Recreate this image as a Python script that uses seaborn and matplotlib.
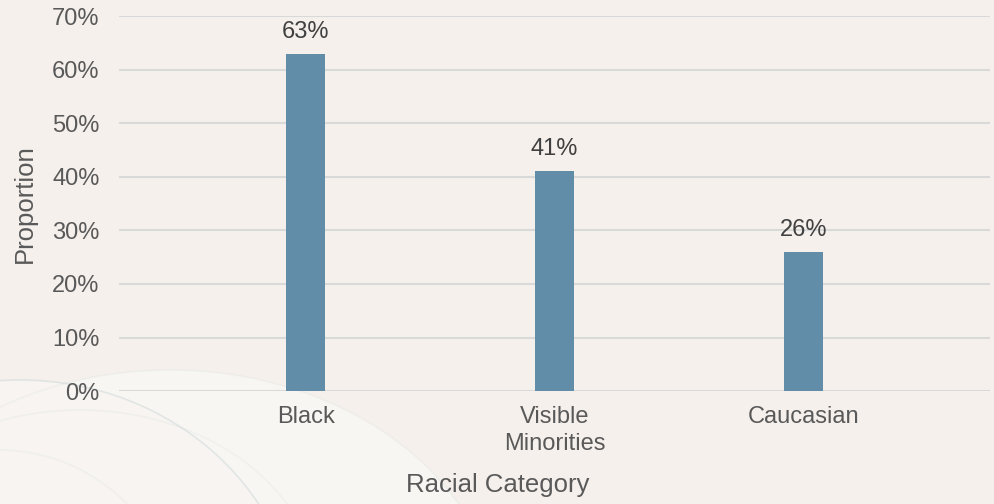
import matplotlib
matplotlib.use("Agg")
import matplotlib.pyplot as plt
from matplotlib.patches import Ellipse, Arc
import seaborn as sns
import pandas as pd

categories = ["Black", "Visible\nMinorities", "Caucasian"]
proportions = [0.63, 0.41, 0.26]
bar_labels = ["63%", "41%", "26%"]
ytick_vals = [0, 0.1, 0.2, 0.3, 0.4, 0.5, 0.6, 0.7]
ytick_labels = ["0%", "10%", "20%", "30%", "40%", "50%", "60%", "70%"]

bg = "#f5f0ec"
bar_color = "#618da8"

sns.set_style("white")
plt.rcParams["font.family"] = ["Liberation Sans", "DejaVu Sans"]

fig = plt.figure(figsize=(9.94, 5.04), dpi=100, facecolor=bg)

# faint decorative swirl in the lower-left corner
deco = fig.add_axes([0, 0, 1, 1], zorder=0)
deco.set_xlim(0, 994)
deco.set_ylim(504, 0)
deco.axis("off")
deco.add_patch(Ellipse((170, 630), 660, 520, facecolor="#f8f6f3", edgecolor="none"))
deco.add_patch(Ellipse((20, 640), 560, 520, facecolor="#f7f4f1", edgecolor="none"))
for cx, cy, w, h, a in [(20, 640, 560, 520, 0.35), (170, 630, 660, 520, 0.12),
                        (80, 600, 480, 380, 0.12), (0, 660, 380, 420, 0.12)]:
    deco.add_patch(Arc((cx, cy), w, h, theta1=180, theta2=360,
                       edgecolor="#b8cccc", lw=1.2, alpha=a))

ax = fig.add_axes([0.1197, 0.224, 0.8763, 0.744], zorder=1)
ax.patch.set_alpha(0)

df = pd.DataFrame({"category": categories, "proportion": proportions})
sns.barplot(data=df, x="category", y="proportion", color=bar_color,
            saturation=1, width=0.157, edgecolor="none", linewidth=0,
            ax=ax, zorder=3)

for cont in ax.containers:
    ax.bar_label(cont, labels=bar_labels, padding=8, fontsize=17, color="#404040")

ax.set_ylim(0, 0.7)
ax.set_xlim(-0.75, 2.75)
ax.set_yticks(ytick_vals)
ax.set_yticklabels(ytick_labels)
ax.yaxis.grid(True, color="#d9d9d9", lw=1.5, zorder=0)
ax.set_axisbelow(True)
for s in ax.spines.values():
    s.set_visible(False)
ax.tick_params(axis="y", length=0, pad=14, labelsize=17, labelcolor="#595959")
ax.tick_params(axis="x", length=0, pad=11, labelsize=17, labelcolor="#595959")
for t in ax.get_xticklabels():
    t.set_linespacing(1.25)

ax.set_ylabel("Proportion", fontsize=18.5, color="#595959")
ax.yaxis.set_label_coords(-0.094, 0.5)
ax.set_xlabel("Racial Category", fontsize=18.5, color="#595959")
ax.xaxis.set_label_coords(0.435, -0.218)

fig.savefig("out.png", dpi=100, facecolor=bg)
